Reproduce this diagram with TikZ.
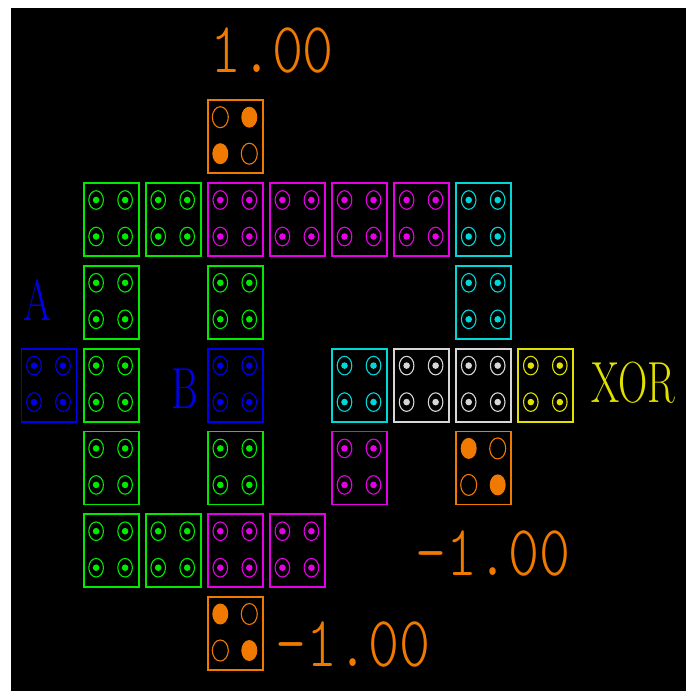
\documentclass[tikz,border=0pt]{standalone}
\usepackage{tikz}
\usetikzlibrary{calc}

\definecolor{gatorange}{RGB}{240,122,0}
\definecolor{gatgreen}{RGB}{0,235,0}
\definecolor{gatmagenta}{RGB}{230,0,230}
\definecolor{gatcyan}{RGB}{0,215,215}
\definecolor{gatwhite}{RGB}{215,215,215}
\definecolor{gatyellow}{RGB}{225,225,0}
\definecolor{gatblue}{RGB}{0,0,235}

% one cell of the grid: name, column, row, colour
\newcommand{\wirecell}[4]{%
  \node[cell, draw=#4] (#1) at ({49+62.1*#2}, {219.5+82.8*#3}) {};
  \foreach \dx/\dy in {-15/-19.5, 14/-19.5, -15/17, 14/17} {
    \draw[#4, ring] ($(#1.center)+(\dx,\dy)$) ellipse [x radius=7.3, y radius=9.3];
    \fill[#4] ($(#1.center)+(\dx,\dy)$) circle [radius=3.3];
  }
}
% orange value cell: name, column, row, list of positions with fill or hole
\newcommand{\valuecell}[4]{%
  \node[cell, draw=gatorange] (#1) at ({49+62.1*#2}, {219.5+82.8*#3}) {};
  \foreach \dx/\dy/\kind in {#4}
    \path[\kind] ($(#1.center)+(\dx,\dy)$) ellipse [x radius=8, y radius=10.5];
}

\begin{document}
\begin{tikzpicture}[x=1pt, y=-1pt,
    cell/.style={rectangle, line width=1.8pt, minimum width=55pt,
                 minimum height=73pt, inner sep=0pt},
    ring/.style={line width=1.1pt},
    bead/.style={fill=gatorange},
    hole/.style={draw=gatorange, line width=1.1pt},
    numtag/.style={text=gatorange,
                   font=\fontsize{72}{72}\fontseries{l}\ttfamily,
                   xscale=0.82, inner sep=0pt},
    lettag/.style={font=\fontsize{58}{58}\selectfont, xscale=0.7,
                   inner sep=0pt}
]
\useasboundingbox (0,0) rectangle (693,698);
\fill[white] (0,0) rectangle (693,698);
\fill[black] (11,8) rectangle (686,691);

% value cells
\valuecell{top}{3}{-1}{-15/-19.5/hole, 14/-19.5/bead, -15/17/bead, 14/17/hole}
\valuecell{mid}{7}{3}{-15/-19.5/bead, 14/-19.5/hole, -15/17/hole, 14/17/bead}
\valuecell{low}{3}{5}{-15/-19.5/bead, 14/-19.5/hole, -15/17/hole, 14/17/bead}

% row 0
\wirecell{g01}{1}{0}{gatgreen}
\wirecell{g02}{2}{0}{gatgreen}
\wirecell{m03}{3}{0}{gatmagenta}
\wirecell{m04}{4}{0}{gatmagenta}
\wirecell{m05}{5}{0}{gatmagenta}
\wirecell{m06}{6}{0}{gatmagenta}
\wirecell{c07}{7}{0}{gatcyan}
% row 1
\wirecell{g11}{1}{1}{gatgreen}
\wirecell{g13}{3}{1}{gatgreen}
\wirecell{c17}{7}{1}{gatcyan}
% row 2
\wirecell{inA}{0}{2}{gatblue}
\wirecell{g21}{1}{2}{gatgreen}
\wirecell{inB}{3}{2}{gatblue}
\wirecell{c25}{5}{2}{gatcyan}
\wirecell{w26}{6}{2}{gatwhite}
\wirecell{w27}{7}{2}{gatwhite}
\wirecell{out}{8}{2}{gatyellow}
% row 3
\wirecell{g31}{1}{3}{gatgreen}
\wirecell{g33}{3}{3}{gatgreen}
\wirecell{m35}{5}{3}{gatmagenta}
% row 4
\wirecell{g41}{1}{4}{gatgreen}
\wirecell{g42}{2}{4}{gatgreen}
\wirecell{m43}{3}{4}{gatmagenta}
\wirecell{m44}{4}{4}{gatmagenta}

% labels
\node[numtag] (topval) at (272,51) {1.00};
\node[numtag] (midval) at (493,553) {-1.00};
\node[numtag] (lowval) at (353,644) {-1.00};
\node[lettag, text=gatblue] (labA) at (37.5,300) {A};
\node[lettag, text=gatblue] (labB) at (185,389) {B};
\node[lettag, text=gatyellow] (labXOR) at (633,383) {XOR};

\end{tikzpicture}
\end{document}
